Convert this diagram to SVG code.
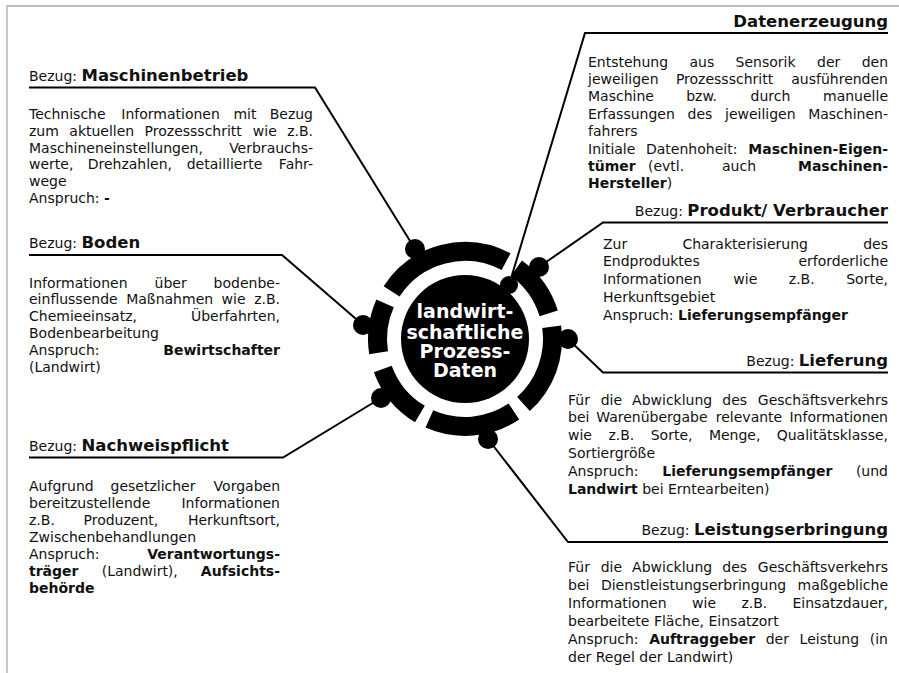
<svg xmlns="http://www.w3.org/2000/svg" width="899" height="673" viewBox="0 0 899 673">
<style>
text{font-family:"DejaVu Sans","Liberation Sans",sans-serif;font-size:14px;fill:#111}
.b{font-weight:bold}
.h{font-weight:bold;font-size:16.5px}
.e{text-anchor:end}
.ln{fill:none;stroke:#000;stroke-width:2}
.seg{fill:none;stroke:#000;stroke-width:19}
.ctr{fill:#fff;font-weight:bold;font-size:19px;text-anchor:middle}
</style>
<rect width="899" height="673" fill="#fff"/>
<path d="M7,673 V6 H899" fill="none" stroke="#a8a8a8" stroke-width="1.3"/>

<g id="connectors">
<path class="ln" d="M29,87.5 H315 L415,249"/>
<path class="ln" d="M888,33 H585 L509,285"/>
<path class="ln" d="M888,222.5 H603 L539,267"/>
<path class="ln" d="M888,372.5 H603 L568,339"/>
<path class="ln" d="M888,542 H568 L488,439"/>
<path class="ln" d="M29,255 H282 L363,325"/>
<path class="ln" d="M29,457.5 H283 L381,398"/>
</g>

<g id="hub">
<circle cx="465" cy="339" r="64" fill="#000"/>
<path class="seg" d="M391.6,291.3 A87.5,87.5 0 0 1 506.1,261.7"/>
<path class="seg" d="M516.4,268.2 A87.5,87.5 0 0 1 548.7,313.4"/>
<path class="seg" d="M551.7,326.8 A87.5,87.5 0 0 1 523.5,404"/>
<path class="seg" d="M513.9,411.5 A87.5,87.5 0 0 1 429.4,418.9"/>
<path class="seg" d="M419.9,414 A87.5,87.5 0 0 1 382.8,368.9"/>
<path class="seg" d="M378.6,352.7 A87.5,87.5 0 0 1 385.1,303.4"/>
<g fill="#000">
<circle cx="415" cy="249" r="10"/>
<circle cx="509" cy="285" r="9"/>
<circle cx="539" cy="267" r="10"/>
<circle cx="568" cy="339" r="10"/>
<circle cx="488" cy="439" r="10"/>
<circle cx="363" cy="325" r="10"/>
<circle cx="381" cy="398" r="10"/>
</g>
<text class="ctr" x="465" y="318">landwirt-</text>
<text class="ctr" x="465" y="338.5">schaftliche</text>
<text class="ctr" x="465" y="358">Prozess-</text>
<text class="ctr" x="465" y="377">Daten</text>
</g>

<g id="n-maschinenbetrieb">
<text x="29" y="81">Bezug: <tspan class="h">Maschinenbetrieb</tspan></text>
<text x="29" y="119">Technische</text><text x="121.3" y="119">Informationen</text><text x="233.4" y="119">mit</text><text class="e" x="313" y="119">Bezug</text>
<text x="29" y="135.8">zum</text><text x="69.3" y="135.8">aktuellen</text><text x="144.6" y="135.8">Prozessschritt</text><text x="252.8" y="135.8">wie</text><text class="e" x="313" y="135.8">z.B.</text>
<text x="29" y="152.6">Maschineneinstellungen,</text><text class="e" x="313" y="152.6">Verbrauchs-</text>
<text x="29" y="169.4">werte,</text><text x="87.7" y="169.4">Drehzahlen,</text><text x="186.7" y="169.4">detaillierte</text><text class="e" x="313" y="169.4">Fahr-</text>
<text x="29" y="186.2">wege</text>
<text x="29" y="203">Anspruch: <tspan class="b">-</tspan></text>
</g>

<g id="n-datenerzeugung">
<text class="h e" x="888" y="27">Datenerzeugung</text>
<text x="588" y="66.5">Entstehung</text><text x="689.5" y="66.5">aus</text><text x="735.6" y="66.5">Sensorik</text><text x="817" y="66.5">der</text><text class="e" x="888" y="66.5">den</text>
<text x="588" y="83.9">jeweiligen</text><text x="675.9" y="83.9">Prozessschritt</text><text class="e" x="888" y="83.9">ausführenden</text>
<text x="588" y="101.3">Maschine</text><text x="686.2" y="101.3">bzw.</text><text x="750.6" y="101.3">durch</text><text class="e" x="888" y="101.3">manuelle</text>
<text x="588" y="118.7">Erfassungen</text><text x="687.5" y="118.7">des</text><text x="725" y="118.7">jeweiligen</text><text class="e" x="888" y="118.7">Maschinen-</text>
<text x="588" y="136.1">fahrers</text>
<text x="588" y="153.5">Initiale</text><text x="646" y="153.5">Datenhoheit:</text><text class="b e" x="888" y="153.5">Maschinen-Eigen-</text>
<text class="b" x="588" y="170.9">tümer</text><text x="648" y="170.9">(evtl.</text><text x="722" y="170.9">auch</text><text class="b e" x="888" y="170.9">Maschinen-</text>
<text x="588" y="188.3"><tspan class="b">Hersteller</tspan>)</text>
</g>

<g id="n-produkt">
<text class="e" x="888" y="216">Bezug: <tspan class="h">Produkt/ Verbraucher</tspan></text>
<text x="603" y="248.5">Zur</text><text x="682.4" y="248.5">Charakterisierung</text><text class="e" x="888" y="248.5">des</text>
<text x="603" y="266.3">Endproduktes</text><text class="e" x="888" y="266.3">erforderliche</text>
<text x="603" y="284.1">Informationen</text><text x="733.3" y="284.1">wie</text><text x="788.8" y="284.1">z.B.</text><text class="e" x="888" y="284.1">Sorte,</text>
<text x="603" y="301.9">Herkunftsgebiet</text>
<text x="603" y="319.7">Anspruch: <tspan class="b">Lieferungsempfänger</tspan></text>
</g>

<g id="n-lieferung">
<text class="e" x="888" y="366">Bezug: <tspan class="h">Lieferung</tspan></text>
<text x="568" y="404.5">Für</text><text x="600.7" y="404.5">die</text><text x="632.1" y="404.5">Abwicklung</text><text x="722.3" y="404.5">des</text><text class="e" x="888" y="404.5">Geschäftsverkehrs</text>
<text x="568" y="422.3">bei</text><text x="596.2" y="422.3">Warenübergabe</text><text x="715.8" y="422.3">relevante</text><text class="e" x="888" y="422.3">Informationen</text>
<text x="568" y="440.1">wie</text><text x="608.4" y="440.1">z.B.</text><text x="650.7" y="440.1">Sorte,</text><text x="708.9" y="440.1">Menge,</text><text class="e" x="888" y="440.1">Qualitätsklasse,</text>
<text x="568" y="457.9">Sortiergröße</text>
<text x="568" y="475.7">Anspruch:</text><text class="b" x="662.3" y="475.7">Lieferungsempfänger</text><text class="e" x="888" y="475.7">(und</text>
<text x="568" y="493.5"><tspan class="b">Landwirt</tspan> bei Erntearbeiten)</text>
</g>

<g id="n-leistungserbringung">
<text class="e" x="888" y="535">Bezug: <tspan class="h">Leistungserbringung</tspan></text>
<text x="568" y="571.5">Für</text><text x="600.7" y="571.5">die</text><text x="632.1" y="571.5">Abwicklung</text><text x="722.3" y="571.5">des</text><text class="e" x="888" y="571.5">Geschäftsverkehrs</text>
<text x="568" y="589.5">bei</text><text x="600.9" y="589.5">Dienstleistungserbringung</text><text class="e" x="888" y="589.5">maßgebliche</text>
<text x="568" y="607.5">Informationen</text><text x="692.1" y="607.5">wie</text><text x="741.4" y="607.5">z.B.</text><text class="e" x="888" y="607.5">Einsatzdauer,</text>
<text x="568" y="625.5">bearbeitete Fläche, Einsatzort</text>
<text x="568" y="643.5">Anspruch:</text><text class="b" x="649.2" y="643.5">Auftraggeber</text><text x="765.7" y="643.5">der</text><text x="799.6" y="643.5">Leistung</text><text class="e" x="888" y="643.5">(in</text>
<text x="568" y="661.5">der Regel der Landwirt)</text>
</g>

<g id="n-boden">
<text x="29" y="248">Bezug: <tspan class="h">Boden</tspan></text>
<text x="29" y="287.5">Informationen</text><text x="154.6" y="287.5">über</text><text class="e" x="280" y="287.5">bodenbe-</text>
<text x="29" y="304.3">einflussende</text><text x="126.2" y="304.3">Maßnahmen</text><text x="221.6" y="304.3">wie</text><text class="e" x="280" y="304.3">z.B.</text>
<text x="29" y="321.1">Chemieeinsatz,</text><text class="e" x="280" y="321.1">Überfahrten,</text>
<text x="29" y="337.9">Bodenbearbeitung</text>
<text x="29" y="354.7">Anspruch:</text><text class="b e" x="280" y="354.7">Bewirtschafter</text>
<text x="29" y="371.5">(Landwirt)</text>
</g>

<g id="n-nachweispflicht">
<text x="29" y="451">Bezug: <tspan class="h">Nachweispflicht</tspan></text>
<text x="29" y="490.5">Aufgrund</text><text x="110.5" y="490.5">gesetzlicher</text><text class="e" x="280" y="490.5">Vorgaben</text>
<text x="29" y="507.5">bereitzustellende</text><text class="e" x="280" y="507.5">Informationen</text>
<text x="29" y="524.5">z.B.</text><text x="83.5" y="524.5">Produzent,</text><text class="e" x="280" y="524.5">Herkunftsort,</text>
<text x="29" y="541.5">Zwischenbehandlungen</text>
<text x="29" y="558.5">Anspruch:</text><text class="b e" x="280" y="558.5">Verantwortungs-</text>
<text class="b" x="29" y="575.5">träger</text><text x="101.7" y="575.5">(Landwirt),</text><text class="b e" x="280" y="575.5">Aufsichts-</text>
<text class="b" x="29" y="592.5">behörde</text>
</g>
</svg>
